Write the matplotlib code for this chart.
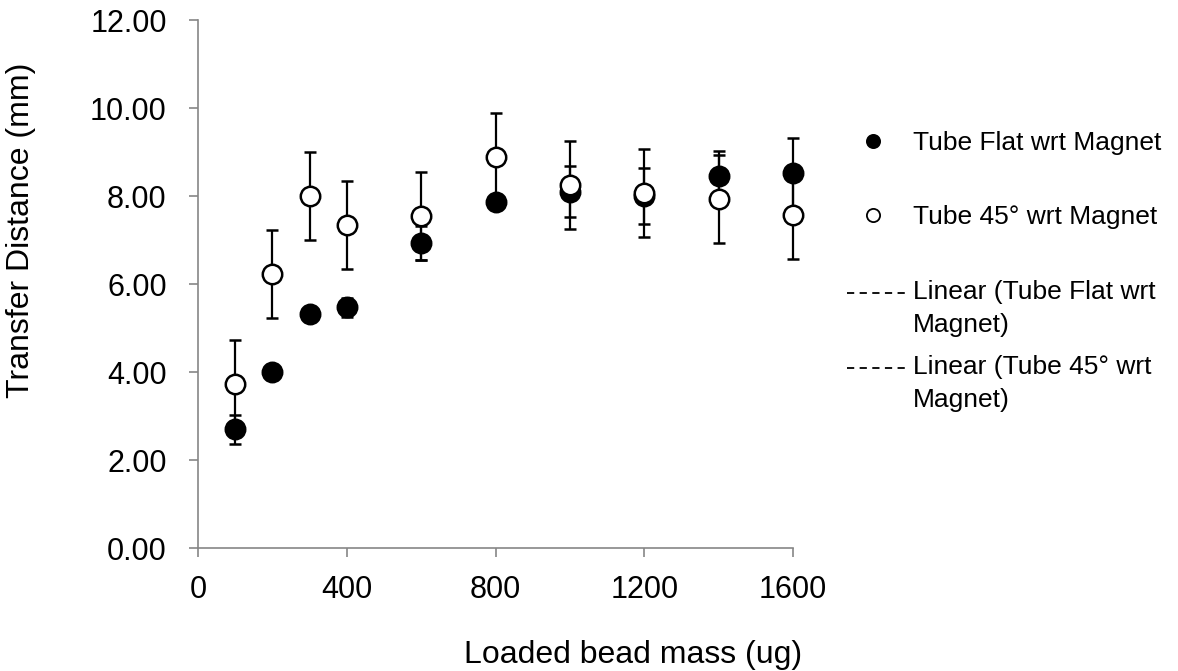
import matplotlib

matplotlib.use("Agg")

import matplotlib.pyplot as plt
from matplotlib.lines import Line2D
from matplotlib.ticker import FormatStrFormatter

plt.rcParams["font.family"] = ["Liberation Sans", "DejaVu Sans"]

mass = [100, 200, 300, 400, 600, 800, 1000, 1200, 1400, 1600]
flat_mean = [2.70, 4.00, 5.32, 5.47, 6.93, 7.87, 8.10, 8.00, 8.45, 8.52]
flat_err = [0.33, 0.10, 0.05, 0.22, 0.38, 0.10, 0.58, 0.64, 0.58, 0.80]
tilt_mean = [3.73, 6.23, 8.00, 7.34, 7.55, 8.88, 8.26, 8.07, 7.94, 7.56]
tilt_err = [1.0, 1.0, 1.0, 1.0, 1.0, 1.0, 1.0, 1.0, 1.0, 1.0]

series_labels = ["Tube Flat wrt Magnet", "Tube 45° wrt Magnet"]
trend_labels = ["Linear (Tube Flat wrt\nMagnet)", "Linear (Tube 45° wrt\nMagnet)"]

W, H = 1178, 671
fig = plt.figure(figsize=(W / 100, H / 100), dpi=100)
ax = fig.add_axes([198 / W, 1 - 548 / H, 595 / W, 528 / H])

for mean, err, face, z in [(flat_mean, flat_err, "black", 3),
                           (tilt_mean, tilt_err, "white", 4)]:
    _, caps, bars = ax.errorbar(mass, mean, yerr=err, fmt="o", color="black",
                                markersize=14, capsize=4.5, elinewidth=1.6,
                                capthick=1.6, markerfacecolor=face,
                                markeredgecolor="black", markeredgewidth=1.8,
                                zorder=z, clip_on=False)
    for c in caps:
        c.set_clip_on(False)
    for b in bars:
        b.set_clip_on(False)

ax.set_xlim(0, 1600)
ax.set_ylim(0, 12)
ax.set_xticks([0, 400, 800, 1200, 1600])
ax.set_yticks([0, 2, 4, 6, 8, 10, 12])
ax.yaxis.set_major_formatter(FormatStrFormatter("%.2f"))
ax.tick_params(labelsize=22, direction="out", length=6.5, width=1.2,
               color="#868686")
ax.tick_params(axis="y", pad=16)
ax.tick_params(axis="x", pad=13)
for side in ["top", "right"]:
    ax.spines[side].set_visible(False)
for side in ["left", "bottom"]:
    ax.spines[side].set_color("#868686")
    ax.spines[side].set_linewidth(1.2)

ax.set_xlabel("Loaded bead mass (ug)", fontsize=23, va="baseline", ha="center")
ax.xaxis.set_label_coords((633 - 198) / 595, (548 - 663) / 528)
ax.set_ylabel("Transfer Distance (mm)", fontsize=23, va="center", ha="center")
ax.yaxis.set_label_coords((21.5 - 198) / 595, (548 - 230) / 528)

# legend, laid out by hand like the spreadsheet one (baselines in px)
text_x = 913 / W
rows = [150, 224, 299, 374]
line_step = 33
for i, (label, face) in enumerate(zip(series_labels, ["black", "white"])):
    fig.add_artist(Line2D([873 / W], [1 - (rows[i] - 9) / H], marker="o",
                          linestyle="none", color="black",
                          markerfacecolor=face, markeredgewidth=1.3,
                          markersize=9.5, transform=fig.transFigure))
    fig.text(text_x, 1 - rows[i] / H, label, fontsize=19, va="baseline")
for i, label in enumerate(trend_labels):
    yb = rows[i + 2]
    fig.add_artist(Line2D([847 / W, 907 / W], [1 - (yb - 6) / H] * 2,
                          linestyle=(0, (4, 3)), color="black", linewidth=1.3,
                          transform=fig.transFigure))
    for k, part in enumerate(label.split("\n")):
        fig.text(text_x, 1 - (yb + k * line_step) / H, part, fontsize=19,
                 va="baseline")

fig.savefig("out.png", dpi=100)
